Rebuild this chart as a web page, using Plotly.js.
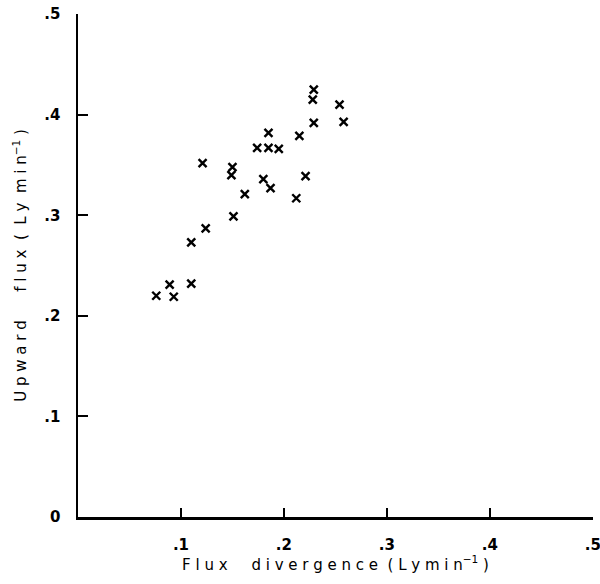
<!DOCTYPE html>
<html>
<head>
<meta charset="utf-8">
<script src="https://cdn.plot.ly/plotly-3.0.1.min.js"></script>
<style>
  html, body { margin: 0; padding: 0; background: #fff; }
  #chart { width: 600px; height: 584px; }
</style>
</head>
<body>
<div id="chart"></div>
<script>
// Flux divergence (Ly min^-1)
const fluxDivergence = [
  0.076, 0.089, 0.093, 0.110, 0.110, 0.124, 0.121, 0.150, 0.149, 0.151,
  0.162, 0.174, 0.185, 0.195, 0.185, 0.180, 0.187, 0.212, 0.221, 0.215,
  0.229, 0.228, 0.229, 0.254, 0.258
];
// Upward flux (Ly min^-1)
const upwardFlux = [
  0.220, 0.231, 0.219, 0.232, 0.273, 0.287, 0.352, 0.348, 0.340, 0.299,
  0.321, 0.367, 0.367, 0.366, 0.382, 0.336, 0.327, 0.317, 0.339, 0.379,
  0.425, 0.415, 0.392, 0.410, 0.393
];
const xTickVals = [0.1, 0.2, 0.3, 0.4, 0.5];
const xTickText = ['.1', '.2', '.3', '.4', '.5'];
const yTickVals = [0, 0.1, 0.2, 0.3, 0.4, 0.5];
const yTickText = ['0', '.1', '.2', '.3', '.4', '.5'];

const fontFam = 'DejaVu Sans, Arial, sans-serif';
const sp = '\u00a0';

const trace = {
  x: fluxDivergence,
  y: upwardFlux,
  mode: 'markers',
  type: 'scatter',
  marker: {
    symbol: 'x-thin-open',
    size: 8,
    color: '#000',
    line: { color: '#000', width: 2.4 }
  },
  hoverinfo: 'none'
};

const layout = {
  width: 600,
  height: 584,
  margin: { l: 78, r: 7, t: 14, b: 67 },
  paper_bgcolor: '#fff',
  plot_bgcolor: '#fff',
  showlegend: false,
  xaxis: {
    range: [0, 0.5002],
    showgrid: false,
    zeroline: false,
    showline: true,
    linecolor: '#000',
    linewidth: 2.5,
    ticks: 'inside',
    ticklen: 9,
    tickwidth: 2,
    tickcolor: '#000',
    tickvals: xTickVals,
    ticktext: xTickText,
    ticklabelstandoff: 12,
    ticklabeloverflow: 'allow',
    tickfont: { family: fontFam, size: 15, color: '#000', weight: 'bold' },
    title: {
      text: 'F' + sp + 'l' + sp + 'u' + sp + 'x' + sp + sp + sp + sp + sp +
            'd' + sp + 'i' + sp + 'v' + sp + 'e' + sp + 'r' + sp + 'g' + sp + 'e' + sp + 'n' + sp + 'c' + sp + 'e' +
            sp + sp + '(' + sp + 'L' + sp + 'y' + sp + 'm' + sp + 'i' + sp + 'n<sup>\u22121</sup>' + sp + ')',
      font: { family: fontFam, size: 15, color: '#000' },
      standoff: 6
    }
  },
  yaxis: {
    range: [0, 0.5002],
    showgrid: false,
    zeroline: false,
    showline: true,
    linecolor: '#000',
    linewidth: 2.5,
    ticks: 'inside',
    ticklen: 10,
    tickwidth: 2,
    tickcolor: '#000',
    tickvals: yTickVals,
    ticktext: yTickText,
    ticklabelstandoff: 12,
    ticklabeloverflow: 'allow',
    tickfont: { family: fontFam, size: 15, color: '#000', weight: 'bold' },
    title: {
      text: 'U' + sp + 'p' + sp + 'w' + sp + 'a' + sp + 'r' + sp + 'd' + sp + sp + sp + sp + sp + sp +
            'f' + sp + 'l' + sp + 'u' + sp + 'x' + sp + sp + '(' + sp + sp + 'L' + sp + 'y' + sp + sp +
            'm' + sp + 'i' + sp + 'n<sup>\u22121</sup>' + sp + ')',
      font: { family: fontFam, size: 15, color: '#000' },
      standoff: 14
    }
  }
};

Plotly.newPlot('chart', [trace], layout, { staticPlot: true, displayModeBar: false });
</script>
</body>
</html>
